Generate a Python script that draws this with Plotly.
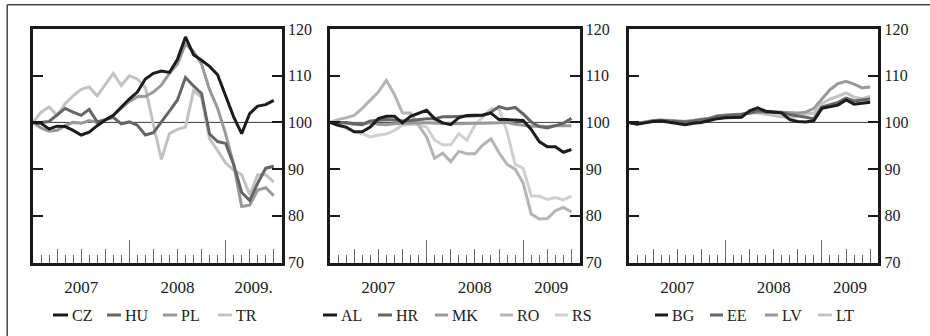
import plotly.graph_objects as go

# ---------------- data (monthly index, Jan 2007 = 0 ... Jul 2009 = 30) ----------------
months = list(range(31))
year_ticks = [0, 12, 24]
quarter_ticks = [3, 6, 9, 15, 18, 21, 27, 30]
month_ticks = list(range(1, 31))
label_pos = [6, 18, 27.5]
labels_p1 = ['2007', '2008', '2009.']
labels_p23 = ['2007', '2008', '2009']
yticks = [70, 80, 90, 100, 110, 120]

# Panel 1
CZ = [100, 99.8, 98.6, 99.2, 99.1, 98.3, 97.3, 97.9, 99.3, 100.5, 101.5, 103.3, 105, 106.5, 109.3,
      110.5, 111, 110.7, 113.5, 118.3, 114.5, 113.3, 112, 110.2, 105.5, 101.2, 97.6, 101.9, 103.5, 103.8, 104.7]
HU = [100, 100, 100.2, 101.5, 103, 102.2, 101.5, 102.8, 100.1, 100.6, 101.1, 99.7, 100.1, 99.4, 97.3,
      97.8, 100, 102.4, 104.8, 109.6, 107.8, 106.2, 97.5, 95.9, 95.5, 91, 85, 83.3, 87, 90.2, 90.6]
PL = [100, 98.8, 98.1, 98.3, 99.3, 100, 99.8, 100.4, 100, 100.5, 101.5, 103, 104.5, 105.5, 105.6,
      106.5, 108, 110.5, 112.5, 116.8, 115.2, 112.5, 107, 103, 97.5, 91, 82, 82.3, 85.5, 86, 84.3]
TR = [100, 102.2, 103.3, 101.5, 104, 105.7, 107.1, 107.6, 105.7, 108.2, 110.5, 107.9, 110, 109.3, 107.5,
      99.5, 92.1, 97.6, 98.5, 99, 106.8, 105.4, 96.5, 94, 91.3, 89.8, 88.8, 84.5, 88.8, 88.8, 87.2]

# Panel 2
AL = [100, 99.4, 99, 98, 98, 99, 100.8, 101.3, 101.3, 99.9, 101.3, 101.9, 102.6, 100.8, 99.9,
      99.5, 101, 101.5, 101.5, 101.6, 102, 100.6, 100.6, 100.5, 100.4, 98.5, 95.9, 94.8, 94.8, 93.6, 94.2]
HR = [100, 100, 100, 99.7, 99.5, 100.3, 100.5, 100.6, 100.5, 100.3, 100.4, 100.6, 100.8, 100.8, 101.2,
      101.2, 101.3, 101.3, 101.4, 101.5, 102.2, 103.4, 102.9, 103.2, 101.8, 100.1, 99.1, 98.8, 99.3, 99.8, 100.9]
MK = [100, 100, 99.8, 99.6, 99.7, 99.9, 99.6, 99.5, 99.7, 99.8, 99.8, 99.9, 99.9, 99.8, 99.8,
      99.7, 99.7, 99.8, 99.8, 99.8, 99.8, 99.9, 100, 99.6, 99.4, 99.2, 99.2, 99.1, 99.3, 99.3, 99.3]
RO = [100, 100.6, 101, 101.5, 103, 104.7, 106.5, 109, 106, 102, 102, 99.4, 96.9, 92.3, 93.4,
      91.6, 93.8, 93.3, 93.3, 95.2, 96.5, 93.5, 91, 90, 87, 80.4, 79.3, 79.4, 81.1, 81.8, 80.8]
RS = [100, 99.6, 98.7, 98, 97.6, 96.9, 97.3, 97.5, 98.3, 99.4, 99.6, 99.5, 99, 96.2, 95.2,
      95.2, 97.6, 96.2, 99.4, 101.1, 102.9, 102.9, 98, 91, 90.2, 84.3, 84.2, 83.5, 83.9, 83.4, 84.2]

# Panel 3
BG = [100, 99.6, 99.9, 100.2, 100.3, 100, 99.7, 99.5, 99.8, 100, 100.4, 100.8, 101, 101, 101.1,
      102.5, 103.1, 102.4, 102.2, 102, 100.6, 100.2, 100.1, 100.4, 103, 103.4, 103.7, 104.8, 103.9, 104.1, 104.3]
EE = [100, 99.7, 100, 100.3, 100.4, 100.3, 100.1, 100.1, 100.3, 100.5, 100.8, 101.3, 101.5, 101.6, 101.7,
      102, 102.5, 102.2, 102.2, 102.1, 101.7, 101.4, 101, 100.8, 103.3, 103.8, 104.3, 105.2, 104.6, 104.8, 105]
LV = [100, 99.8, 100.1, 100.4, 100.5, 100.4, 100.2, 100.2, 100.4, 100.6, 100.9, 101.4, 101.6, 101.7, 101.8,
      102, 102.2, 102.3, 102.3, 102.2, 102, 102, 102.2, 103, 105, 107, 108.3, 108.8, 108.2, 107.4, 107.6]
LT = [100, 99.8, 100.1, 100.4, 100.5, 100.4, 100.2, 100.2, 100.4, 100.6, 100.9, 101.4, 101.6, 101.6, 101.7,
      102.3, 102, 101.8, 101.5, 101.2, 101, 101.3, 101.8, 102, 104, 105, 105.6, 106.3, 105.4, 105.1, 105.6]

panels = [
    (['CZ', 'HU', 'PL', 'TR'], [CZ, HU, PL, TR], labels_p1),
    (['AL', 'HR', 'MK', 'RO', 'RS'], [AL, HR, MK, RO, RS], labels_p23),
    (['BG', 'EE', 'LV', 'LT'], [BG, EE, LV, LT], labels_p23),
]
colors4 = ['#1c1c1c', '#666666', '#999999', '#c2c2c2']
colors5 = ['#1c1c1c', '#666666', '#999999', '#b4b4b4', '#d0d0d0']

# ---------------- layout geometry ----------------
W, H = 930, 336
x_domains = [(33, 281.8), (330, 579.5), (629, 878.2)]
y_top, y_bot = 29, 262.5
font_family = 'Liberation Serif, Times New Roman, serif'
legend_y = 315
legend_dash = [
    [(53, 68), (107, 121), (163, 177), (218, 232)],
    [(323, 337), (378, 392), (435, 448), (500, 513), (555, 568)],
    [(655, 668), (710, 723), (765, 778), (818, 832)],
]

fig = go.Figure()
shapes = []
annotations = []

for p, (names, series, ylabels) in enumerate(panels):
    n = p + 1
    xid = 'x' if n == 1 else f'x{n}'
    yid = 'y' if n == 1 else f'y{n}'
    cols = colors5 if len(names) == 5 else colors4
    for name, vals, col in reversed(list(zip(names, series, cols))):
        fig.add_trace(go.Scatter(x=months, y=vals, mode='lines', name=name,
                                 line=dict(color=col, width=3), xaxis=xid, yaxis=yid,
                                 showlegend=False))
    # empty traces so the overlaying tick/label axes get drawn
    for extra in (n + 3, n + 6):
        fig.add_trace(go.Scatter(x=[], y=[], mode='lines', xaxis=f'x{extra}', yaxis=yid,
                                 showlegend=False, hoverinfo='skip'))
    d0, d1 = x_domains[p]
    ax_key = 'xaxis' if n == 1 else f'xaxis{n}'
    ay_key = 'yaxis' if n == 1 else f'yaxis{n}'
    fig.layout[ax_key] = dict(
        domain=[d0 / W, d1 / W], anchor=yid, range=[0, 31], automargin=False,
        showline=True, linewidth=3, linecolor='#1a1a1a', mirror=True,
        showgrid=False, zeroline=False,
        tickmode='array', tickvals=year_ticks, ticks='inside', ticklen=23,
        tickwidth=1, tickcolor='#6e6e6e', showticklabels=False,
        minor=dict(tickmode='array', tickvals=month_ticks, ticks='inside', ticklen=8,
                   tickwidth=1, tickcolor='#6e6e6e', showgrid=False),
    )
    # quarter ticks
    fig.layout[f'xaxis{n + 3}'] = dict(
        overlaying=xid, anchor=yid, range=[0, 31], automargin=False,
        showline=False, showgrid=False,
        zeroline=False, tickmode='array', tickvals=quarter_ticks, ticks='inside',
        ticklen=14, tickwidth=1, tickcolor='#6e6e6e', showticklabels=False,
    )
    # year labels
    fig.layout[f'xaxis{n + 6}'] = dict(
        overlaying=xid, anchor=yid, range=[0, 31], automargin=False,
        showline=False, showgrid=False,
        zeroline=False, tickmode='array', tickvals=label_pos, ticktext=ylabels,
        ticks='', ticklabelstandoff=12,
        tickfont=dict(family=font_family, size=17, color='#222222'),
    )
    fig.layout[ay_key] = dict(
        domain=[1 - y_bot / H, 1 - y_top / H], anchor=xid, range=[70, 120], side='right',
        automargin=False,
        showline=True, linewidth=3, linecolor='#1a1a1a', mirror='ticks',
        showgrid=False, zeroline=False,
        tickmode='array', tickvals=yticks, ticks='inside', ticklen=10, tickwidth=1.5,
        tickcolor='#1a1a1a',
        tickfont=dict(family=font_family, size=16, color='#222222'),
    )
    shapes.append(dict(type='line', xref=f'{xid} domain', yref=yid, x0=0, x1=1, y0=100, y1=100,
                       line=dict(color='#3a3a3a', width=1), layer='below'))
    # legend
    for (a, b), name, col in zip(legend_dash[p], names, cols):
        shapes.append(dict(type='line', xref='paper', yref='paper', x0=a / W, x1=b / W,
                           y0=1 - legend_y / H, y1=1 - legend_y / H,
                           line=dict(color=col, width=3)))
        annotations.append(dict(text=name, xref='paper', yref='paper', x=(b + 1.5) / W,
                                y=1 - legend_y / H, xanchor='left', yanchor='middle',
                                showarrow=False,
                                font=dict(family=font_family, size=16, color='#222222')))

# outer frame (left and top edges visible)
shapes.append(dict(type='line', xref='paper', yref='paper', x0=7.2 / W, x1=7.2 / W,
                   y0=1 - 4.7 / H, y1=-0.1, line=dict(color='#444444', width=1.5)))
shapes.append(dict(type='line', xref='paper', yref='paper', x0=7.2 / W, x1=1.1,
                   y0=1 - 4.7 / H, y1=1 - 4.7 / H, line=dict(color='#444444', width=1.5)))

fig.update_layout(
    width=W, height=H, margin=dict(l=0, r=0, t=0, b=0, autoexpand=False),
    plot_bgcolor='white', paper_bgcolor='white', showlegend=False,
    shapes=shapes, annotations=annotations,
    font=dict(family=font_family, size=16, color='#222222'),
)

fig.write_html('out.html', config={'displayModeBar': False},
               post_script="document.body.style.margin='0';")
